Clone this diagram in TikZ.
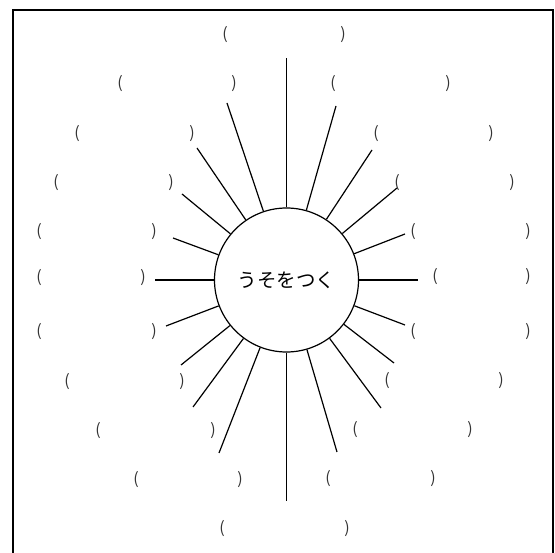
\documentclass[tikz,border=0pt]{standalone}
\usepackage{fontspec}
\setmainfont{Noto Sans CJK JP}
\newcommand\pairnode[4]{%
  \node[par] (#1l) at (#2,#4) {(};
  \node[par] (#1r) at (#3,#4) {)};}
\begin{document}
\begin{tikzpicture}[x=1pt,y=-1pt,
  ray/.style={line width=1.2pt},
  par/.style={inner sep=0pt, text=black!80, font=\fontsize{16}{16}\selectfont}]
\useasboundingbox (0,0) rectangle (555,553);
\clip (0,0) rectangle (555,553);
\draw[line width=2.2pt] (13,10) rectangle (553,620);
\node[circle, draw, line width=1.2pt, minimum size=144pt, inner sep=0pt,
      font=\fontsize{19.5}{19.5}\selectfont] (c) at (286.5,280) {うそをつく};
% blanks
\pairnode{pt}{225}{343}{35}
\pairnode{pa}{120}{234}{84}
\pairnode{pb}{77}{192}{134}
\pairnode{pc}{56}{171}{183}
\pairnode{pd}{39}{154}{232}
\pairnode{pe}{39}{143}{278}
\pairnode{qa}{333}{448}{84}
\pairnode{qb}{376}{491}{134}
\pairnode{qc}{397}{512}{183}
\pairnode{qd}{413}{528}{232}
\pairnode{qe}{435}{528}{277}
\pairnode{ra}{39}{154}{332}
\pairnode{rb}{67}{182}{382}
\pairnode{rc}{98}{213}{431}
\pairnode{rd}{136}{240}{480}
\pairnode{sa}{413}{528}{332}
\pairnode{sb}{387}{501}{381}
\pairnode{sc}{355}{470}{430}
\pairnode{sd}{328}{433}{479}
\pairnode{pbot}{222}{347}{529}
% rays
\foreach \n/\x/\y in {t/286.5/58, b/286.5/501, l/155/280, r/418/280,
  ul1/227/103, ul2/197/148, ul3/182/194, ul4/173/238,
  ll1/166/326, ll2/181/365, ll3/193/407, ll4/219/453,
  lr1/405/325, lr2/394/363, lr3/381/408, lr4/337/452,
  ur1/336/106, ur2/372/150, ur3/397/188, ur4/405/234}{
  \coordinate (e\n) at (\x,\y);
  \draw[ray] (c) -- (e\n);
}
\end{tikzpicture}
\end{document}
